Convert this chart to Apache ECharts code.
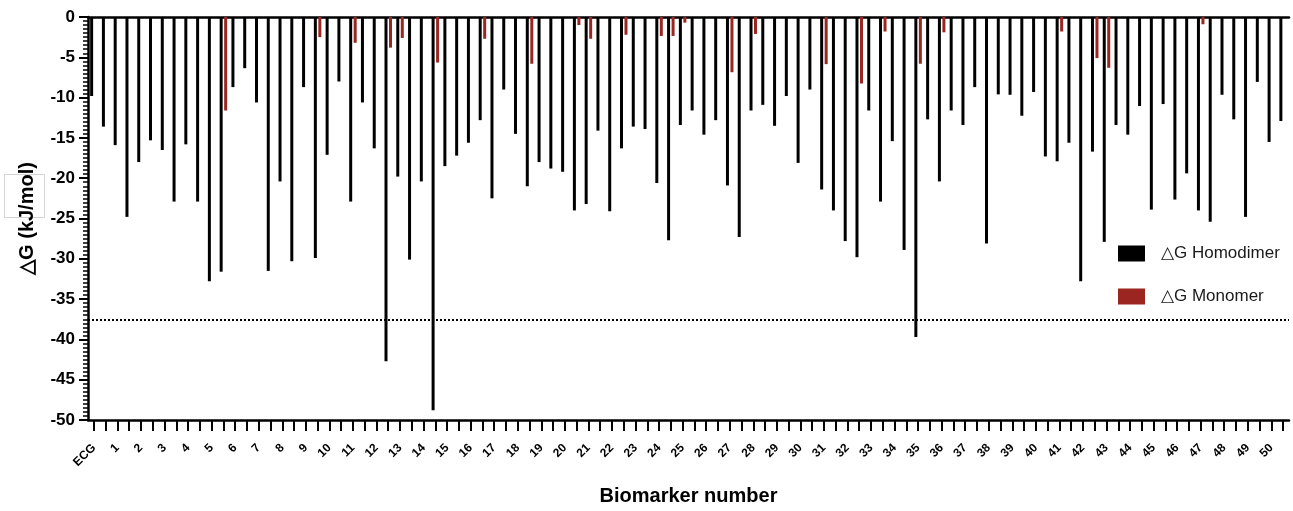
<!DOCTYPE html>
<html>
<head>
<meta charset="utf-8">
<script src="https://cdn.jsdelivr.net/npm/echarts@6/dist/echarts.min.js"></script>
<style>
html,body{margin:0;padding:0;background:#fff;}
#chart{width:1293px;height:511px;}
</style>
</head>
<body>
<div id="chart"></div>
<script>
// Tick labels on the category axis (one label per pair of bars)
const tickLabels = ['ECG','1','2','3','4','5','6','7','8','9','10','11','12','13','14','15','16','17','18','19','20',
  '21','22','23','24','25','26','27','28','29','30','31','32','33','34','35','36','37','38','39','40',
  '41','42','43','44','45','46','47','48','49','50'];

// ΔG Homodimer values (kJ/mol), one per bar position
const homodimer = [
  -9.8, -13.6, -15.9, -24.8, -18.0, -15.3, -16.5, -22.9, -15.8, -22.9,
  -32.8, -31.6, -8.7, -6.35, -10.6, -31.5, -20.4, -30.3, -8.7, -29.9,
  -17.1, -8.0, -22.9, -10.6, -16.3, -42.7, -19.8, -30.1, -20.4, -48.8,
  -18.5, -17.2, -15.6, -12.8, -22.5, -9.0, -14.5, -21.0, -18.0, -18.8,
  -19.2, -24.0, -23.2, -14.1, -24.1, -16.3, -13.6, -13.9, -20.6, -27.7,
  -13.4, -11.6, -14.6, -12.8, -20.9, -27.3, -11.6, -10.9, -13.5, -9.8,
  -18.1, -9.0, -21.4, -24.0, -27.8, -29.8, -11.6, -22.9, -15.4, -28.9,
  -39.7, -12.7, -20.4, -11.6, -13.4, -8.7, -28.1, -9.6, -9.65, -12.25,
  -9.3, -17.3, -17.9, -15.6, -32.8, -16.7, -27.9, -13.4, -14.6, -11.05,
  -23.9, -10.8, -22.65, -19.4, -24.0, -25.4, -9.65, -12.7, -24.8, -8.05,
  -15.5, -12.9
];

// ΔG Monomer values (kJ/mol); null where no monomer bar is drawn
const monomer = [
  null, null, null, null, null, null, null, null, null, null,
  null, -11.6, null, null, null, null, null, null, null, -2.5,
  null, null, -3.2, null, null, -3.8, -2.6, null, null, -5.65,
  null, null, null, -2.7, null, null, null, -5.8, null, null,
  null, -1.0, -2.7, null, null, -2.2, null, null, -2.35, -2.35,
  -0.7, null, null, null, -6.85, null, -2.1, null, null, null,
  null, null, -5.85, null, null, -8.25, null, -1.8, null, null,
  -5.8, null, -1.9, null, null, null, null, null, null, null,
  null, null, -1.8, null, null, -5.1, -6.3, null, null, null,
  null, null, null, null, -0.9, null, null, null, null, null,
  null, null
];

// Threshold (dotted reference line)
const thresholdLine = -37.6;

// y-axis range
const yMin = -50, yMax = 0, yStep = 5;

// Category list: two bar positions per tick label
const categories = [];
tickLabels.forEach(function (l) { categories.push(l); categories.push(l + "'"); });

const FONT = "'Liberation Sans', Arial, Helvetica, sans-serif";
const chart = echarts.init(document.getElementById('chart'), null, {renderer: 'canvas'});

chart.setOption({
  animation: false,
  backgroundColor: '#ffffff',
  grid: {left: 88, right: 4, top: 17, bottom: 90, containLabel: false},
  legend: {
    orient: 'vertical',
    left: 1113,
    top: 240,
    itemWidth: 27,
    itemHeight: 16,
    itemGap: 26,
    icon: 'rect',
    textStyle: {fontFamily: FONT, fontSize: 17, color: '#1a1a1a', padding: [0, 0, 0, 11]},
    data: ['△G Homodimer', '△G Monomer']
  },
  graphic: [{
    type: 'rect', left: 2, top: 172, z: -1,
    shape: {width: 40, height: 43},
    style: {fill: 'none', stroke: '#d4d4d4', lineWidth: 1}
  }],
  xAxis: [{
    type: 'category',
    data: categories,
    position: 'bottom',
    name: 'Biomarker number',
    nameLocation: 'middle',
    nameGap: 66,
    nameTextStyle: {fontFamily: FONT, fontSize: 20, fontWeight: 'bold', color: '#000'},
    axisLine: {onZero: false, lineStyle: {color: '#000', width: 2.5}},
    axisTick: {show: true, alignWithLabel: true, interval: 0, length: 11, lineStyle: {color: '#000', width: 2}},
    axisLabel: {
      interval: 1, rotate: 45, margin: 26,
      fontFamily: FONT, fontSize: 12, fontWeight: 'bold', color: '#000',
      formatter: function (v, idx) { return idx % 2 === 0 ? tickLabels[idx / 2] : ''; }
    },
    splitLine: {show: false}
  }, {
    type: 'category',
    data: categories,
    position: 'top',
    axisLine: {onZero: false, lineStyle: {color: '#000', width: 2.5}},
    axisTick: {show: false},
    axisLabel: {show: false},
    splitLine: {show: false}
  }],
  yAxis: {
    type: 'value',
    min: yMin, max: yMax, interval: yStep,
    name: '△G (kJ/mol)',
    nameLocation: 'middle',
    nameGap: 51,
    nameRotate: 90,
    nameTextStyle: {fontFamily: FONT, fontSize: 20, fontWeight: 'bold', color: '#000'},
    axisLine: {show: true, lineStyle: {color: '#000', width: 2.5}},
    axisTick: {show: true, length: 9, lineStyle: {color: '#000', width: 2}},
    minorTick: {show: true, splitNumber: 10, length: 5, lineStyle: {color: '#000', width: 1.5}},
    axisLabel: {margin: 13, fontFamily: FONT, fontSize: 17, fontWeight: 'bold', color: '#000'},
    splitLine: {show: false},
    minorSplitLine: {show: false}
  },
  series: [{
    name: '△G Homodimer',
    type: 'bar',
    data: homodimer,
    barWidth: 3,
    barGap: '50%',
    itemStyle: {color: '#000000'},
    markLine: {
      silent: true,
      symbol: ['none', 'none'],
      label: {show: false},
      lineStyle: {color: '#000', type: [2, 2], width: 2},
      data: [{yAxis: thresholdLine}]
    }
  }, {
    name: '△G Monomer',
    type: 'bar',
    data: monomer,
    barWidth: 3,
    barGap: '50%',
    itemStyle: {color: '#9b2520'}
  }]
});
</script>
</body>
</html>
